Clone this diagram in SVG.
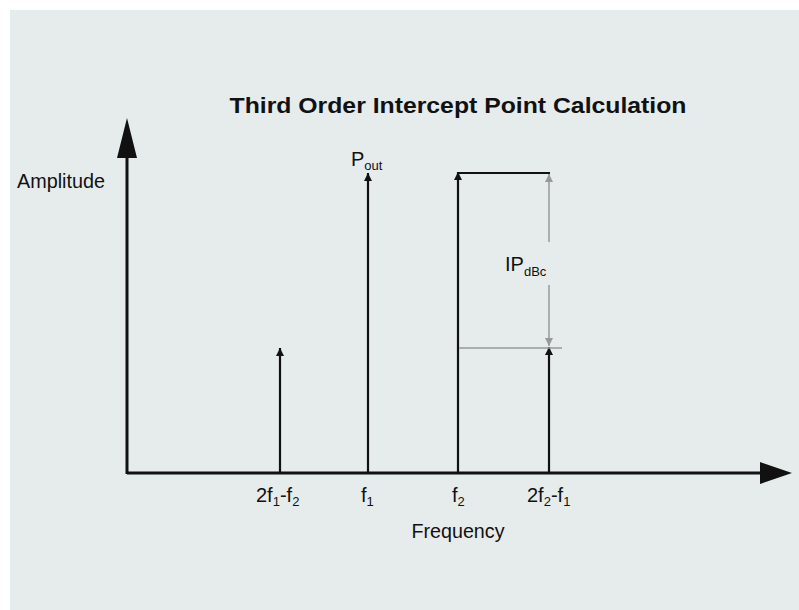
<svg xmlns="http://www.w3.org/2000/svg" width="799" height="610" viewBox="0 0 799 610">
<defs>
<style>
text{font-family:"Liberation Sans",Arial,sans-serif;fill:#111;}
.lbl{font-size:20px;}
.sub{font-size:13px;}
.title{font-size:22px;font-weight:bold;}
.ax{stroke:#111;stroke-width:3;fill:none;}
.sp{stroke:#111;stroke-width:2.2;fill:none;}
.gr{stroke:#999;stroke-width:1.5;fill:none;}
</style>
<marker id="ah" viewBox="0 0 10 10" refX="10" refY="5" markerWidth="12" markerHeight="8" markerUnits="userSpaceOnUse" orient="auto"><path d="M0,0 L10,5 L0,10 Z" fill="#111"/></marker>
<marker id="ahg" viewBox="0 0 10 10" refX="10" refY="5" markerWidth="12" markerHeight="8" markerUnits="userSpaceOnUse" orient="auto"><path d="M0,0 L10,5 L0,10 Z" fill="#999"/></marker>
</defs>
<rect x="0" y="0" width="799" height="610" fill="#fff"/>
<rect x="10" y="10" width="789" height="600" fill="#e6ecec"/>
<text class="title" x="458" y="113" text-anchor="middle" textLength="457" lengthAdjust="spacingAndGlyphs">Third Order Intercept Point Calculation</text>
<g id="axes">
<line class="ax" x1="127" y1="474" x2="127" y2="155"/>
<path d="M127,118 L137,158 L117,158 Z" fill="#111"/>
<line class="ax" x1="127" y1="473" x2="762" y2="473"/>
<path d="M792,473 L760,462 L760,484 Z" fill="#111"/>
</g>
<g id="connectors">
<line class="sp" x1="280" y1="473" x2="280" y2="348" marker-end="url(#ah)"/>
<line class="sp" x1="368" y1="473" x2="368" y2="173" marker-end="url(#ah)"/>
<line class="sp" x1="458" y1="473" x2="458" y2="172" marker-end="url(#ah)"/>
<line class="sp" x1="549" y1="473" x2="549" y2="347" marker-end="url(#ah)"/>
<line class="sp" x1="457" y1="173" x2="550" y2="173"/>
<line class="gr" x1="549" y1="242" x2="549" y2="174" marker-end="url(#ahg)"/>
<line class="gr" x1="549" y1="285" x2="549" y2="346" marker-end="url(#ahg)"/>
<line class="gr" x1="459" y1="348" x2="562" y2="348"/>
</g>
<g id="labels">
<text class="lbl" x="17" y="188" textLength="88" lengthAdjust="spacingAndGlyphs">Amplitude</text>
<text class="lbl" x="351" y="166">P<tspan class="sub" dy="4">out</tspan></text>
<text class="lbl" x="505" y="271">IP<tspan class="sub" dy="5">dBc</tspan></text>
<text class="lbl" x="256" y="502">2f<tspan class="sub" dy="4">1</tspan><tspan dy="-4">-f</tspan><tspan class="sub" dy="4">2</tspan></text>
<text class="lbl" x="361" y="502">f<tspan class="sub" dy="4">1</tspan></text>
<text class="lbl" x="452" y="502">f<tspan class="sub" dy="4">2</tspan></text>
<text class="lbl" x="527" y="502">2f<tspan class="sub" dy="4">2</tspan><tspan dy="-4">-f</tspan><tspan class="sub" dy="4">1</tspan></text>
<text class="lbl" x="458" y="538" text-anchor="middle" textLength="93" lengthAdjust="spacingAndGlyphs">Frequency</text>
</g>
</svg>
